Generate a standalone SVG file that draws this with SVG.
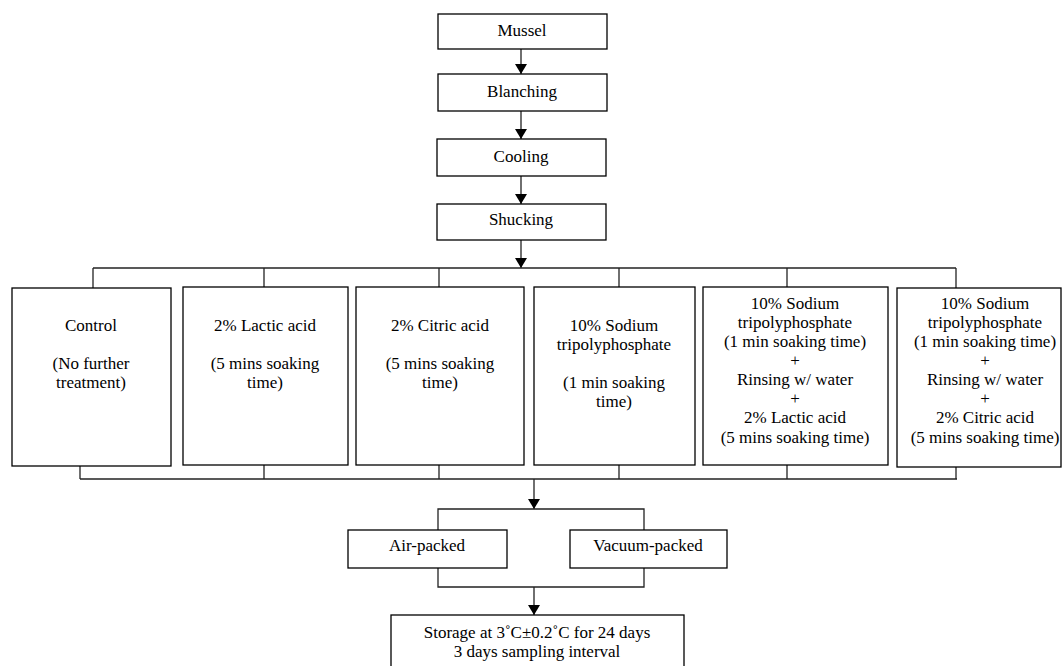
<svg xmlns="http://www.w3.org/2000/svg" width="1062" height="666" viewBox="0 0 1062 666">
<style>
.n rect{fill:#fff;stroke:#000;stroke-width:1.3}
.c line,.c polyline{stroke:#222;stroke-width:1.3;fill:none}
text{font-family:"Liberation Serif","Times New Roman",serif;font-size:17px;fill:#000;text-anchor:middle}
</style>
<defs>
<marker id="ah" viewBox="0 0 10 12" refX="10" refY="6" markerWidth="10" markerHeight="12" markerUnits="userSpaceOnUse" orient="auto">
<path d="M0,0 L10,6 L0,12 Z" fill="#000"/>
</marker>
</defs>
<rect width="1062" height="666" fill="#fff"/>
<g class="c" id="connectors">
<line x1="521" y1="49" x2="521" y2="74" marker-end="url(#ah)"/>
<line x1="521" y1="111" x2="521" y2="139" marker-end="url(#ah)"/>
<line x1="521" y1="176" x2="521" y2="204" marker-end="url(#ah)"/>
<line x1="521" y1="240" x2="521" y2="268" marker-end="url(#ah)"/>
<line x1="93" y1="268" x2="956" y2="268"/>
<line x1="93" y1="268" x2="93" y2="288"/>
<line x1="264" y1="268" x2="264" y2="287"/>
<line x1="439" y1="268" x2="439" y2="287"/>
<line x1="619" y1="268" x2="619" y2="287"/>
<line x1="787" y1="268" x2="787" y2="287"/>
<line x1="956" y1="268" x2="956" y2="288"/>
<line x1="80" y1="479" x2="957" y2="479"/>
<line x1="80" y1="466" x2="80" y2="479"/>
<line x1="264" y1="465" x2="264" y2="479"/>
<line x1="439" y1="465" x2="439" y2="479"/>
<line x1="619" y1="465" x2="619" y2="479"/>
<line x1="787" y1="465" x2="787" y2="479"/>
<line x1="956" y1="467" x2="956" y2="479"/>
<line x1="534" y1="479" x2="534" y2="509" marker-end="url(#ah)"/>
<polyline points="438,530 438,509 644,509 644,530"/>
<polyline points="438,568 438,587 644,587 644,568"/>
<line x1="534" y1="587" x2="534" y2="615" marker-end="url(#ah)"/>
</g>
<g class="n" id="mussel"><rect x="438" y="14" width="169" height="35"/><text x="522" y="36">Mussel</text></g>
<g class="n" id="blanching"><rect x="438" y="74" width="169" height="37"/><text x="522" y="97">Blanching</text></g>
<g class="n" id="cooling"><rect x="437" y="139" width="169" height="37"/><text x="521" y="162">Cooling</text></g>
<g class="n" id="shucking"><rect x="437" y="204" width="169" height="36"/><text x="521" y="225">Shucking</text></g>
<g class="n" id="control"><rect x="12" y="288" width="159" height="178"/>
<text x="91" y="331">Control</text><text x="91" y="369">(No further</text><text x="91" y="388">treatment)</text></g>
<g class="n" id="lactic"><rect x="183" y="287" width="165" height="178"/>
<text x="265" y="331">2% Lactic acid</text><text x="265" y="369">(5 mins soaking</text><text x="265" y="388">time)</text></g>
<g class="n" id="citric"><rect x="356" y="287" width="168" height="178"/>
<text x="440" y="331">2% Citric acid</text><text x="440" y="369">(5 mins soaking</text><text x="440" y="388">time)</text></g>
<g class="n" id="stpp"><rect x="534" y="287" width="161" height="178"/>
<text x="614" y="331">10% Sodium</text><text x="614" y="350">tripolyphosphate</text><text x="614" y="388">(1 min soaking</text><text x="614" y="407">time)</text></g>
<g class="n" id="stpp-lactic"><rect x="703" y="287" width="185" height="178"/>
<text x="795" y="309">10% Sodium</text><text x="795" y="328">tripolyphosphate</text><text x="795" y="347">(1 min soaking time)</text><text x="795" y="366">+</text><text x="795" y="385">Rinsing w/ water</text><text x="795" y="404">+</text><text x="795" y="423">2% Lactic acid</text><text x="795" y="443">(5 mins soaking time)</text></g>
<g class="n" id="stpp-citric"><rect x="897" y="288" width="164" height="179"/>
<text x="985" y="309">10% Sodium</text><text x="985" y="328">tripolyphosphate</text><text x="985" y="347">(1 min soaking time)</text><text x="985" y="366">+</text><text x="985" y="385">Rinsing w/ water</text><text x="985" y="404">+</text><text x="985" y="423">2% Citric acid</text><text x="985" y="443">(5 mins soaking time)</text></g>
<g class="n" id="air"><rect x="348" y="530" width="159" height="38"/><text x="427" y="551">Air-packed</text></g>
<g class="n" id="vacuum"><rect x="570" y="530" width="157" height="38"/><text x="648" y="551">Vacuum-packed</text></g>
<g class="n" id="storage"><rect x="391" y="615" width="293" height="60"/>
<text x="537" y="638">Storage at 3˚C±0.2˚C for 24 days</text><text x="537" y="657">3 days sampling interval</text></g>
</svg>
